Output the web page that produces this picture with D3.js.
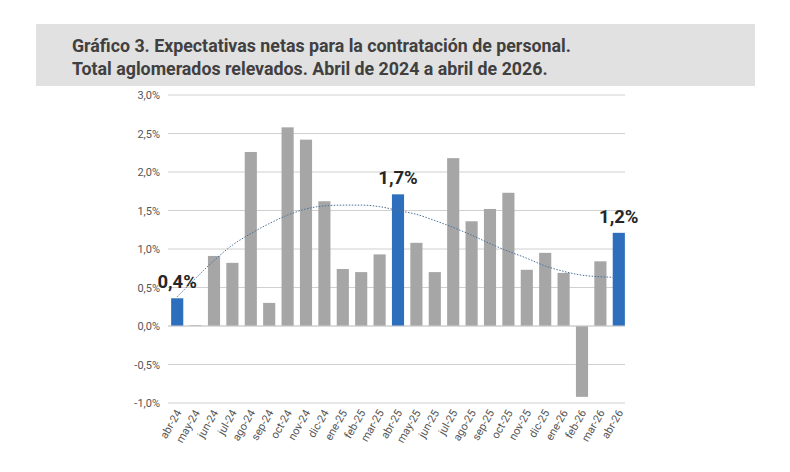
<!DOCTYPE html><html><head><meta charset="utf-8"><script src="https://cdn.jsdelivr.net/npm/d3@7"></script>
<style>body{margin:0;background:#fff;font-family:Roboto,"Open Sans",sans-serif}</style></head><body><svg id="c" width="790" height="472"></svg><script>
const categories=["abr-24","may-24","jun-24","jul-24","ago-24","sep-24","oct-24","nov-24","dic-24","ene-25","feb-25","mar-25","abr-25","may-25","jun-25","jul-25","ago-25","sep-25","oct-25","nov-25","dic-25","ene-26","feb-26","mar-26","abr-26"];
const values=[0.36,0.01,0.91,0.82,2.26,0.30,2.58,2.42,1.62,0.74,0.70,0.93,1.71,1.08,0.70,2.18,1.36,1.52,1.73,0.73,0.95,0.69,-0.92,0.84,1.21];
const trend=[0.38,0.62,0.85,1.05,1.20,1.33,1.44,1.52,1.56,1.57,1.57,1.55,1.50,1.45,1.37,1.28,1.18,1.07,0.97,0.88,0.78,0.71,0.66,0.64,0.63];
const highlighted=["abr-24","abr-25","abr-26"];
const labels={"abr-24":"0,4%","abr-25":"1,7%","abr-26":"1,2%"};
const yTicks=[-1,-0.5,0,0.5,1,1.5,2,2.5,3];
const svg=d3.select("#c");
svg.append("rect").attr("x",36).attr("y",24).attr("width",719).attr("height",62).attr("fill","#e1e1e1");
svg.append("text").attr("x",72).attr("y",52).attr("font-size",17.8).attr("font-weight","bold").attr("fill","#404040").text("Gráfico 3. Expectativas netas para la contratación de personal.");
svg.append("text").attr("x",72).attr("y",75).attr("font-size",17.8).attr("font-weight","bold").attr("fill","#404040").text("Total aglomerados relevados. Abril de 2024 a abril de 2026.");
const x=d3.scaleBand().domain(categories).range([168,628]).paddingInner(0.34).paddingOuter(0.17);
const y=d3.scaleLinear().domain([-1,3]).range([403,95]);
const fmt=d=>d3.format(".1f")(d).replace(".",",").replace("−","-")+"%";
const g=svg.append("g");
yTicks.forEach(t=>{g.append("line").attr("x1",168).attr("x2",625).attr("y1",y(t)).attr("y2",y(t)).attr("stroke","#d0d0d0").attr("stroke-width",1);});
const ya=svg.append("g").attr("transform","translate(168,0)").call(d3.axisLeft(y).tickValues(yTicks).tickFormat(fmt).tickSize(0).tickPadding(8));
ya.select(".domain").remove();
ya.selectAll("text").attr("font-size",11).attr("fill","#555").attr("font-family","Roboto,sans-serif");
svg.selectAll("rect.bar").data(values).enter().append("rect").attr("class","bar")
 .attr("x",(d,i)=>x(categories[i])).attr("width",x.bandwidth())
 .attr("y",d=>y(Math.max(0,d))).attr("height",d=>Math.abs(y(d)-y(0)))
 .attr("fill",(d,i)=>highlighted.includes(categories[i])?"#2e6fbd":"#a6a6a6");
svg.append("line").attr("x1",168).attr("x2",625).attr("y1",y(0)).attr("y2",y(0)).attr("stroke","#d0d0d0");
const line=d3.line().x((d,i)=>x(categories[i])+x.bandwidth()/2).y(d=>y(d)).curve(d3.curveMonotoneX);
svg.append("path").attr("d",line(trend)).attr("fill","none").attr("stroke","#4a6f9a").attr("stroke-width",1).attr("stroke-dasharray","1.5,1.5");
categories.forEach((c,i)=>{if(labels[c]){svg.append("text").attr("x",x(c)+x.bandwidth()/2).attr("y",y(values[i])-10).attr("text-anchor","middle").attr("font-size",18.5).attr("font-weight","bold").attr("fill","#262626").text(labels[c]);}});
const xa=svg.append("g").attr("transform","translate(0,406)").call(d3.axisBottom(x).tickSize(0).tickPadding(4));
xa.select(".domain").remove();
xa.selectAll("text").attr("font-size",11).attr("fill","#555").attr("font-family","Roboto,sans-serif").attr("text-anchor","end").attr("transform","rotate(-60)").attr("dx","-0.3em").attr("dy","0.3em");
</script></body></html>
